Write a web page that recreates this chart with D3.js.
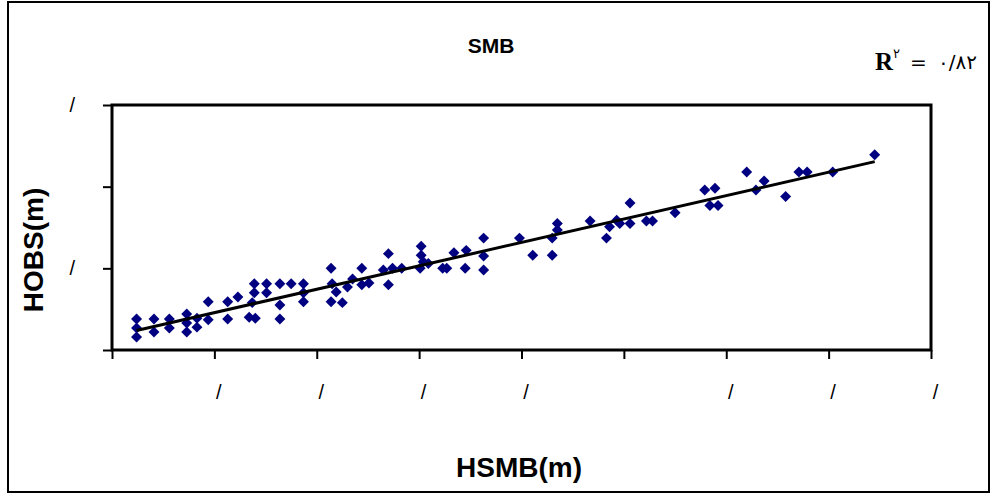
<!DOCTYPE html>
<html>
<head>
<meta charset="utf-8"/>
<script src="https://d3js.org/d3.v7.min.js"></script>
<style>
  body { margin: 0; background: #fff; }
  svg text { font-family: "Liberation Sans", Arial, sans-serif; }
</style>
</head>
<body>
<div id="chart"></div>
<script>
// HSMB (x) against HOBS (y)
var hsmb = [0.24,0.24,0.24,0.41,0.41,0.56,0.56,0.73,0.73,0.73,0.83,0.83,0.94,0.94,1.13,1.13,1.23,
  1.39,1.39,1.37,1.34,1.40,1.51,1.51,1.64,1.64,1.64,1.75,1.87,1.87,1.87,
  2.14,2.15,2.19,2.14,2.25,2.30,2.35,2.44,2.44,2.51,2.65,2.70,2.70,2.74,2.83,
  3.02,3.02,3.04,3.09,3.01,3.23,3.27,3.34,3.46,3.45,3.63,3.63,3.63,3.98,4.11,4.30,4.30,4.35,4.35,
  4.67,4.83,4.86,4.93,4.96,5.06,5.06,5.22,5.28,5.50,5.79,5.89,5.84,5.92,6.20,6.29,6.37,6.58,6.71,6.79,7.04,7.45];
var hobs = [0.38,0.27,0.16,0.38,0.22,0.38,0.27,0.44,0.33,0.22,0.39,0.28,0.59,0.37,0.59,0.38,0.65,
  0.81,0.70,0.58,0.40,0.39,0.81,0.70,0.81,0.55,0.38,0.81,0.81,0.70,0.59,
  1.00,0.81,0.71,0.59,0.58,0.77,0.87,1.00,0.80,0.82,0.98,1.18,0.80,1.00,1.00,
  1.27,1.16,1.08,1.06,1.00,1.00,1.00,1.19,1.22,1.00,1.37,1.15,0.98,1.37,1.16,1.16,1.37,1.55,1.47,
  1.58,1.37,1.51,1.59,1.55,1.80,1.55,1.58,1.58,1.68,1.96,1.98,1.77,1.77,2.18,1.96,2.07,1.88,2.18,2.18,2.18,2.39];

var xTicks = [0,1,2,3,4,5,6,7,8];
var xTickLabels = ["", "/", "/", "/", "/", "", "/", "/", "/"];
var yTicks = [0,1,2,3];
var yTickLabels = ["", "/", "", "/"];

var W = 994, H = 496;
var svg = d3.select('#chart').append('svg').attr('width', W).attr('height', H);

// outer frame
svg.append('rect').attr('x', 8).attr('y', 2).attr('width', 981).attr('height', 490)
   .attr('fill', 'none').attr('stroke', '#000').attr('stroke-width', 2);

var x = d3.scaleLinear().domain([0, 8]).range([112, 931]);
var y = d3.scaleLinear().domain([0, 3]).range([350, 105]);

var xAxis = svg.append('g').attr('transform', 'translate(0,' + y(0) + ')')
  .call(d3.axisBottom(x).tickValues(xTicks).tickSize(9).tickPadding(26)
        .tickFormat(function(d, i) { return xTickLabels[i]; }));
var yAxis = svg.append('g').attr('transform', 'translate(' + x(0) + ',0)')
  .call(d3.axisLeft(y).tickValues(yTicks).tickSize(9).tickPadding(28)
        .tickFormat(function(d, i) { return yTickLabels[i]; }));

[xAxis, yAxis].forEach(function(a) {
  a.select('.domain').remove();
  a.selectAll('.tick line').attr('stroke', '#000').attr('stroke-width', 2);
  a.selectAll('.tick text').attr('font-size', 20).attr('fill', '#000')
   .attr('font-family', '"Liberation Sans", Arial, sans-serif');
});
xAxis.selectAll('.tick text').attr('dx', 4);

// plot box
svg.append('rect').attr('x', x(0)).attr('y', y(3))
   .attr('width', x(8) - x(0)).attr('height', y(0) - y(3))
   .attr('fill', 'none').attr('stroke', '#000').attr('stroke-width', 3);

// points
var pts = hsmb.map(function(v, i) { return [v, hobs[i]]; });
var diamond = d3.symbol().type(d3.symbolSquare).size(60);
svg.append('g').selectAll('path').data(pts).enter().append('path')
  .attr('d', diamond)
  .attr('transform', function(d) { return 'translate(' + x(d[0]) + ',' + y(d[1]) + ') rotate(45)'; })
  .attr('fill', '#000080');

// linear trend
var mx = d3.mean(hsmb), my = d3.mean(hobs);
var sxy = d3.sum(pts, function(d) { return (d[0] - mx) * (d[1] - my); });
var sxx = d3.sum(hsmb, function(v) { return (v - mx) * (v - mx); });
var slope = sxy / sxx, icpt = my - slope * mx;
var ext = d3.extent(hsmb);
svg.append('path')
  .datum(ext.map(function(v) { return [v, icpt + slope * v]; }))
  .attr('d', d3.line().x(function(d) { return x(d[0]); }).y(function(d) { return y(d[1]); }))
  .attr('stroke', '#000').attr('stroke-width', 3).attr('fill', 'none');

// titles
svg.append('text').attr('x', 491).attr('y', 53).attr('text-anchor', 'middle')
   .attr('font-size', 21).attr('font-weight', 'bold').text('SMB');

svg.append('text').attr('x', 519).attr('y', 477).attr('text-anchor', 'middle')
   .attr('font-size', 28).attr('font-weight', 'bold').text('HSMB(m)');

svg.append('text').attr('transform', 'translate(43,250) rotate(-90)').attr('text-anchor', 'middle')
   .attr('font-size', 28).attr('font-weight', 'bold').text('HOBS(m)');

var r2 = svg.append('text').attr('y', 70);
r2.append('tspan').attr('x', 875).attr('font-family', '"Liberation Serif", serif')
  .attr('font-weight', 'bold').attr('font-size', 25).text('R');
r2.append('tspan').attr('x', 893).attr('y', 58).attr('font-size', 13)
  .attr('font-family', '"DejaVu Sans", sans-serif').text('۲');
r2.append('tspan').attr('x', 910).attr('y', 69).attr('font-size', 20)
  .attr('font-family', '"DejaVu Sans", sans-serif').text('=');
r2.append('tspan').attr('x', 938).attr('y', 69).attr('font-size', 20)
  .attr('font-family', '"DejaVu Sans", sans-serif').text('۰/۸۲');
</script>
</body>
</html>
